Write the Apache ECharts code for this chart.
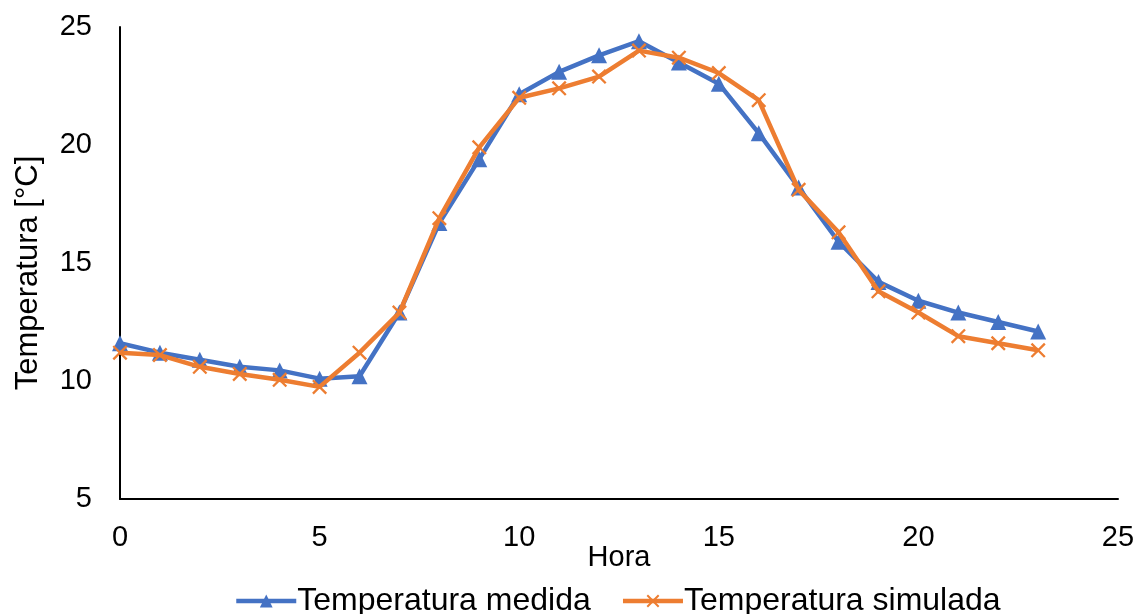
<!DOCTYPE html>
<html><head><meta charset="utf-8">
<script src="https://cdn.jsdelivr.net/npm/echarts@6/dist/echarts.min.js"></script>
<style>html,body{margin:0;padding:0;background:#fff}#c{width:1140px;height:614px}</style>
</head><body><div id="c"></div>
<script>
const hours = [0,1,2,3,4,5,6,7,8,9,10,11,12,13,14,15,16,17,18,19,20,21,22,23];
const medida = [11.6,11.2,10.9,10.6,10.45,10.1,10.2,12.9,16.7,19.4,22.15,23.1,23.8,24.4,23.5,22.6,20.5,18.2,15.9,14.2,13.4,12.9,12.5,12.1];
const simulada = [11.2,11.1,10.6,10.3,10.05,9.75,11.2,12.9,16.9,19.9,22.0,22.4,22.9,24.0,23.7,23.05,21.9,18.1,16.3,13.8,12.9,11.9,11.6,11.3];
const xTicks = {min:0,max:25,interval:5};
const yTicks = {min:5,max:25,interval:5};

const font = 'Liberation Sans, Arial, sans-serif';
const xPath = 'path://M0,1.1L1.1,0L10,8.9L8.9,10Z M8.9,0L10,1.1L1.1,10L0,8.9Z';
const chart = echarts.init(document.getElementById('c'), null, {renderer:'canvas'});
chart.setOption({
  animation:false,
  grid:{left:120,right:22,top:27,bottom:115,containLabel:false,outerBoundsMode:'none'},
  legend:{
    top:580,left:229,itemGap:30,itemWidth:60,itemHeight:16,
    lineStyle:{width:4.5},
    textStyle:{fontFamily:font,fontSize:32,color:'#000',padding:[0,0,0,-4]},
    data:['Temperatura medida','Temperatura simulada']
  },
  xAxis:{
    type:'value',min:xTicks.min,max:xTicks.max,interval:xTicks.interval,
    name:'Hora',nameLocation:'middle',nameGap:44,nameMoveOverlap:false,
    nameTextStyle:{fontFamily:font,fontSize:29,color:'#000'},
    axisLine:{show:true,onZero:false,lineStyle:{color:'#000',width:2}},
    axisTick:{show:false},splitLine:{show:false},
    axisLabel:{fontFamily:font,fontSize:29,color:'#000',margin:24}
  },
  yAxis:{
    type:'value',min:yTicks.min,max:yTicks.max,interval:yTicks.interval,
    name:'Temperatura [°C]',nameLocation:'middle',nameGap:76,nameMoveOverlap:false,
    nameTextStyle:{fontFamily:font,fontSize:31,color:'#000',padding:[0,20,0,0]},
    axisLine:{show:true,lineStyle:{color:'#000',width:2}},
    axisTick:{show:false},splitLine:{show:false},
    axisLabel:{fontFamily:font,fontSize:29,color:'#000',margin:28}
  },
  series:[
    {name:'Temperatura medida',type:'line',data:hours.map((h,i)=>[h,medida[i]]),
     symbol:'triangle',symbolSize:16,lineStyle:{color:'#4472C4',width:4.5},
     itemStyle:{color:'#4472C4'},z:2},
    {name:'Temperatura simulada',type:'line',data:hours.map((h,i)=>[h,simulada[i]]),
     symbol:xPath,symbolSize:15,lineStyle:{color:'#ED7D31',width:4.5},
     itemStyle:{color:'#ED7D31'},z:3}
  ]
});
</script></body></html>
